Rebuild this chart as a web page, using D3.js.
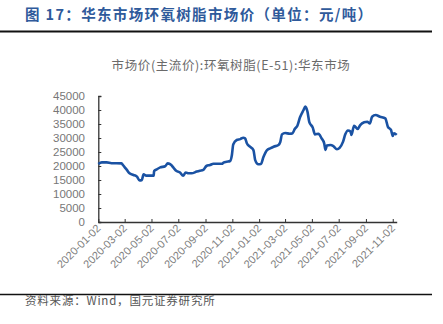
<!DOCTYPE html>
<html>
<head>
<meta charset="utf-8">
<script src="https://cdn.jsdelivr.net/npm/d3@7"></script>
<style>
  html, body { margin: 0; padding: 0; background: #fff; }
  svg { display: block; }
</style>
</head>
<body>
<svg id="chart" width="443" height="324"></svg>
<script>
// Epoxy resin (E-51) mainstream market price, East China, yuan/ton
const dates = [
  "2020-01-02","2020-01-10","2020-01-21","2020-02-01","2020-02-24","2020-02-27",
  "2020-03-07","2020-03-13","2020-03-22","2020-03-30","2020-04-05","2020-04-10",
  "2020-04-14","2020-04-20","2020-05-07","2020-05-08","2020-05-14","2020-05-22",
  "2020-06-02","2020-06-08","2020-06-16","2020-06-21","2020-06-28","2020-07-06",
  "2020-07-13","2020-07-19","2020-07-25","2020-08-01","2020-08-13","2020-08-20",
  "2020-08-28","2020-09-04","2020-09-12","2020-09-20","2020-10-09","2020-10-13",
  "2020-10-20","2020-10-28","2020-11-01","2020-11-04","2020-11-12","2020-11-20",
  "2020-11-27","2020-12-01","2020-12-05","2020-12-12","2020-12-20","2020-12-24",
  "2020-12-31","2021-01-06","2021-01-12","2021-01-20","2021-01-27","2021-02-04",
  "2021-02-15","2021-02-19","2021-02-23","2021-03-02","2021-03-13","2021-03-19",
  "2021-03-24","2021-03-30","2021-04-05","2021-04-13","2021-04-17","2021-04-22",
  "2021-04-26","2021-05-04","2021-05-09","2021-05-17","2021-05-24","2021-05-30",
  "2021-06-02","2021-06-05","2021-06-13","2021-06-20","2021-06-28","2021-07-04",
  "2021-07-12","2021-07-17","2021-07-23","2021-07-29","2021-07-31","2021-08-06",
  "2021-08-14","2021-08-20","2021-08-29","2021-09-05","2021-09-11","2021-09-16",
  "2021-09-24","2021-10-04","2021-10-16","2021-10-22","2021-10-29","2021-11-02",
  "2021-11-05","2021-11-11"
];
const prices = [
  20700,21300,21300,21000,20950,20350,
  18600,17400,16800,16200,14800,15000,
  17000,16550,16550,18200,18800,19500,
  19900,20950,20350,19400,18200,17700,
  16550,17700,17400,17400,18000,18300,
  18600,20000,20350,20800,20800,21200,
  21500,21800,23900,27700,29300,29600,
  30100,29900,28100,26900,25700,22100,
  20600,20700,23300,25700,26300,26900,
  27500,28500,31300,31800,31500,31700,
  33200,34400,37400,40000,41200,39400,
  35800,33700,31300,31500,29900,28100,
  25700,27300,27500,27100,26000,26500,
  28700,31300,32700,32300,31100,34400,
  33200,34600,35600,35800,35200,37600,
  38200,37600,37000,34000,32900,30700,
  31700,31100
];
const yTicks = [0,5000,10000,15000,20000,25000,30000,35000,40000,45000];
const xTickLabels = [
  "2020-01-02","2020-03-02","2020-05-02","2020-07-02","2020-09-02","2020-11-02",
  "2021-01-02","2021-03-02","2021-05-02","2021-07-02","2021-09-02","2021-11-02"
];
const titleText = "图 17：华东市场环氧树脂市场价（单位：元/吨）";
const seriesName = "市场价(主流价):环氧树脂(E-51):华东市场";
const sourceText = "资料来源：Wind，国元证券研究所";

const parse = d3.timeParse("%Y-%m-%d");
const data = dates.map((d, i) => ({ date: parse(d), value: prices[i] }));

const svg = d3.select("#chart");
const latin = "'Liberation Sans', Arial, 'Noto Sans CJK SC', sans-serif";
const cjk = "'Noto Sans CJK SC', 'Liberation Sans', sans-serif";

// Header
svg.append("text")
  .attr("x", 25).attr("y", 20)
  .attr("font-family", cjk).attr("font-weight", "bold")
  .attr("font-size", 14.5).attr("letter-spacing", 1.35)
  .attr("fill", "#2f5a9b")
  .text(titleText);
svg.append("line")
  .attr("x1", 0).attr("x2", 432).attr("y1", 31.5).attr("y2", 31.5)
  .attr("stroke", "#111").attr("stroke-width", 2);

// Series caption
svg.append("text")
  .attr("x", 231).attr("y", 70)
  .attr("text-anchor", "middle")
  .attr("font-family", cjk).attr("font-size", 12.5)
  .attr("letter-spacing", 0.6)
  .attr("fill", "#6a6a6a")
  .text(seriesName);

// Plot area
const x0 = 98.3, x1 = 396.7, yTop = 96, yBottom = 222;
const x = d3.scaleTime()
  .domain([data[0].date, data[data.length - 1].date])
  .range([x0, x1]);
const y = d3.scaleLinear().domain([0, 45000]).range([yBottom, yTop]);

const yAxis = svg.append("g")
  .attr("transform", `translate(${x0},0)`)
  .call(d3.axisRight(y).tickValues(yTicks).tickSize(3).tickFormat(""));
yAxis.select(".domain").attr("stroke", "#333").attr("stroke-width", 1.3);
yAxis.selectAll(".tick line").attr("stroke", "#333");

svg.append("g").selectAll("text")
  .data(yTicks).join("text")
  .attr("x", 85).attr("y", d => y(d) + 4)
  .attr("text-anchor", "end")
  .attr("font-family", latin).attr("font-size", 11.5)
  .attr("fill", "#777")
  .text(d => d);

const xTicks = xTickLabels.map(parse);
const xAxis = svg.append("g")
  .attr("transform", `translate(0,${yBottom})`)
  .call(d3.axisTop(x).tickValues(xTicks).tickSize(3).tickFormat("").tickSizeOuter(0));
xAxis.select(".domain").attr("stroke", "#333").attr("stroke-width", 1.3);
xAxis.selectAll(".tick line").attr("stroke", "#333");

svg.append("g").selectAll("text")
  .data(xTickLabels).join("text")
  .attr("transform", d => `translate(${x(parse(d)) + 3},${yBottom + 7}) rotate(-45)`)
  .attr("text-anchor", "end")
  .attr("font-family", latin).attr("font-size", 11)
  .attr("fill", "#808080")
  .text(d => d);

// Price line
svg.append("path")
  .datum(data)
  .attr("fill", "none")
  .attr("stroke", "#1a52a3")
  .attr("stroke-width", 2.6)
  .attr("stroke-linejoin", "round")
  .attr("d", d3.line().x(d => x(d.date)).y(d => y(d.value)).curve(d3.curveMonotoneX));

// Footer
svg.append("line")
  .attr("x1", 0).attr("x2", 432).attr("y1", 294.5).attr("y2", 294.5)
  .attr("stroke", "#111").attr("stroke-width", 1.5);
svg.append("text")
  .attr("x", 25).attr("y", 305)
  .attr("font-family", cjk).attr("font-size", 11.5)
  .attr("letter-spacing", 0.8)
  .attr("fill", "#555")
  .text(sourceText);
</script>
</body>
</html>
